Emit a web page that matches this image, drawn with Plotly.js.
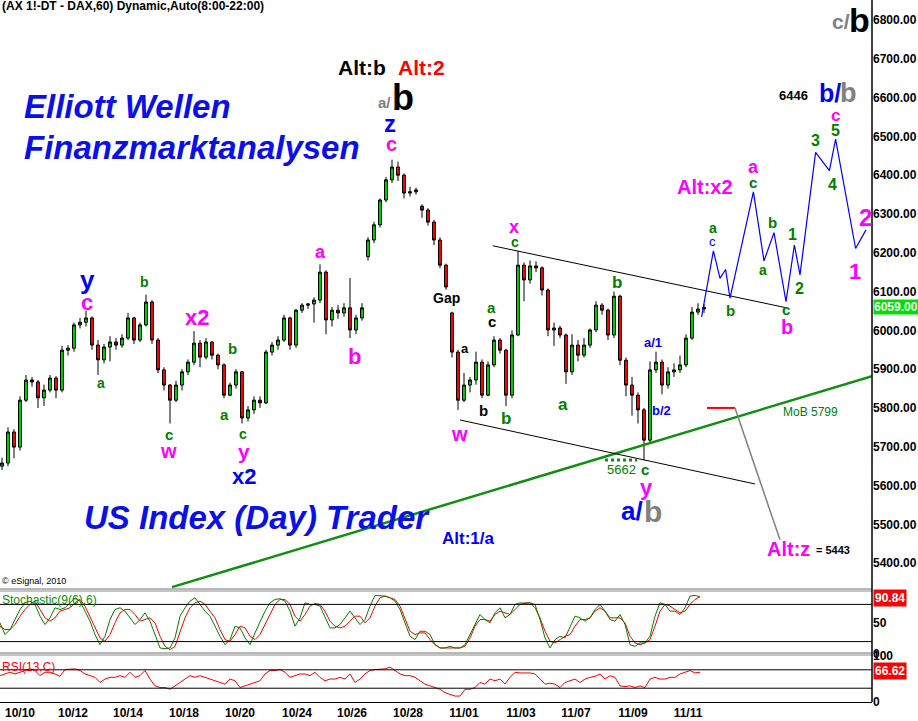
<!DOCTYPE html>
<html><head><meta charset="utf-8">
<script src="https://cdn.plot.ly/plotly-3.0.1.min.js"></script>
<style>html,body{margin:0;padding:0;background:#fff;}#chart{width:918px;height:721px;}</style>
</head><body><div id="chart"></div>
<script>
// ---- hourly DAX candles (every 3rd hour sampled) ----
const open  = [5650,5658,5738,5699,5820,5872,5867,5826,5846,5877,5846,5949,5954,6014,6021,6032,5962,5924,5957,5970,5962,5980,6032,5975,6014,6073,5975,5898,5859,5820,5859,5893,5918,5967,5931,5970,5936,5911,5833,5859,5893,5774,5795,5820,5813,5944,5962,5975,6032,5962,6052,6065,6068,6078,6150,6027,6052,6045,6058,6001,6032,6190,6233,6272,6336,6388,6421,6400,6354,6357,6320,6310,6279,6233,6168,6045,5944,5820,5859,5872,5918,5833,5911,5975,5949,5833,5988,6168,6130,6166,6161,6104,6001,6006,5988,5893,5962,5936,5962,6001,6065,6052,5988,6088,5923,5859,5833,5795,5717,5898,5918,5859,5893,5898,5911,5980,6047,6055];
const high  = [5672,5750,5745,5830,5885,5880,5872,5860,5885,5882,5960,5962,6020,6032,6050,6036,5975,5965,5985,5980,5990,6045,6035,6020,6092,6078,5980,5905,5862,5870,5900,5925,5998,5975,5980,5972,5940,5915,5865,5900,5895,5805,5830,5830,5950,5970,5985,6040,6035,6055,6070,6070,6085,6170,6155,6060,6065,6070,6135,6040,6070,6240,6280,6340,6395,6440,6435,6405,6370,6368,6325,6315,6285,6240,6172,6048,5950,5890,5880,5945,5925,5920,5985,5980,5952,6000,6205,6175,6180,6178,6165,6108,6020,6012,5992,5990,5975,5980,6005,6075,6070,6056,6100,6092,5930,5880,5840,5800,5920,5945,5925,5905,5915,5935,5990,6060,6070,6068];
const low   = [5640,5650,5670,5690,5815,5855,5800,5805,5840,5825,5840,5935,5945,6005,6010,5950,5885,5915,5920,5950,5955,5975,5965,5970,6010,5965,5890,5845,5760,5815,5845,5885,5910,5905,5925,5925,5900,5825,5830,5850,5760,5765,5785,5800,5810,5935,5950,5970,5950,5955,6045,6055,6020,6070,5990,6010,6030,6035,5980,5990,6025,6180,6225,6265,6330,6380,6385,6340,6345,6350,6290,6270,6220,6160,6105,5930,5795,5815,5840,5860,5825,5830,5905,5940,5805,5825,5985,6075,6120,6150,6090,5985,5960,5980,5862,5885,5920,5930,5955,5995,6040,5975,5980,5910,5830,5780,5760,5665,5710,5890,5835,5850,5880,5890,5905,5975,6040,6045];
const close = [5658,5738,5699,5820,5872,5867,5826,5846,5877,5846,5949,5954,6014,6021,6032,5962,5924,5957,5970,5962,5980,6032,5975,6014,6073,5975,5898,5859,5820,5859,5893,5918,5967,5931,5970,5936,5911,5833,5859,5893,5774,5795,5820,5813,5944,5962,5975,6032,5962,6052,6065,6068,6078,6150,6027,6052,6045,6058,6001,6032,6058,6233,6272,6336,6388,6421,6400,6354,6357,6362,6310,6279,6233,6168,6112,5944,5820,5859,5872,5918,5833,5911,5975,5949,5833,5988,6168,6130,6166,6161,6104,6001,6006,5988,5893,5962,5936,5962,6001,6065,6052,5988,6088,5923,5859,5833,5795,5717,5898,5918,5859,5893,5898,5911,5980,6047,6055,6059];

// ---- indicators ----
const stochK = [50.2,31.3,39.4,55.6,71.8,82.6,85.3,79.9,61,47.5,58.3,74.5,71.8,74.5,82.6,90.7,85.3,69.1,52.9,31.3,15.1,28.6,55.6,71.8,74.5,69.1,58.3,47.5,55.6,66.4,52.9,31.3,9.7,8.6,9.7,25.9,61,74.5,85.3,90.7,79.9,69.1,61,44.8,28.6,15.1,23.2,44.8,42.1,25.9,15.1,34,52.9,69.1,82.6,88,89.1,85.3,69.1,44.8,58.3,82.6,79.9,79.9,77.2,61,42.1,42.1,47.5,58.3,69.1,58.3,47.5,55.6,77.2,94.5,93.4,93.4,90.7,85.3,71.8,50.2,28.6,23.2,36.7,36.7,31.3,15.1,9.7,9.7,
  12.4,9.7,9.7,15.1,31.3,50.2,63.7,55.6,50.2,66.4,74.5,58.3,63.7,79.9,82.6,81.5,82.6,79.9,55.6,25.9,9.7,23.2,28.6,25.9,42.1,61,58.3,52.9,58.3,71.8,79.9,69.1,55.6,52.9,63.7,47.5,15.1,12.4,17.8,17.8,28.6,61,82.6,79.9,69.1,69.1,63.7,74.5,93.4,94.5,92.3];
const stochD = [44.8,39.4,39.4,47.5,61,71.8,79.9,85.3,71.8,58.3,52.9,58.3,69.1,71.8,74.5,82.6,88,77.2,61,42.1,25.9,20.5,31.3,50.2,66.4,71.8,71.8,63.7,52.9,55.6,58.3,50.2,28.6,12.4,7,12.4,36.7,58.3,74.5,82.6,85.3,79.9,69.1,58.3,39.4,23.2,20.5,31.3,44.8,42.1,28.6,23.2,31.3,47.5,66.4,79.9,88,88,79.9,61,52.9,63.7,77.2,81.5,79.9,69.1,52.9,44.8,42.1,44.8,52.9,61,61,50.2,58.3,77.2,90.7,93.4,90.7,88,77.2,58.3,36.7,31.3,34,34,23.2,15.1,9.7,9.7,
  9.7,9.7,9.7,12.4,25.9,44.8,55.6,55.6,52.9,63.7,69.1,66.4,63.7,71.8,79.9,82.6,82.6,74.5,58.3,36.7,20.5,17.8,23.2,28.6,31.3,44.8,55.6,55.6,58.3,69.1,74.5,69.1,58.3,58.3,58.3,50.2,28.6,17.8,15.1,17.8,23.2,44.8,69.1,79.9,77.2,71.8,66.4,69.1,79.9,88,92.3];
const rsi = [57.3,61,64.7,61,64.7,68.4,72.1,68.4,57.3,64.7,64.7,61,55.8,70.6,70.6,72.1,68.4,61,57.3,53.6,42.5,49.9,53.6,53.6,57.3,53.6,64.7,53.6,57.3,68.4,49.9,35.1,31.4,31.4,27.7,35.1,42.5,49.9,57.3,53.6,57.3,53.6,49.9,46.2,42.5,38.8,49.9,46.2,31.4,35.1,38.8,42.5,46.2,61,68.4,68.4,70.6,64.7,53.6,57.3,61,61,57.3,64.7,53.6,46.2,49.9,49.9,53.6,49.9,61,42.5,49.9,61,68.4,70.6,72.1,72.1,75.8,68.4,61,57.3,57.3,53.6,46.2,38.8,35.1,31.4,27.7,20.3,
  16.6,12.9,12.9,27.7,27.7,31.4,42.5,38.8,49.9,46.2,49.9,38.8,53.6,64.7,63.2,63.2,63.2,61,49.9,38.8,41,38.8,31.4,42.5,46.2,49.9,42.5,49.9,53.6,55.8,61,49.9,57.3,53.6,35.1,33.6,35.1,31.4,35.1,31.4,49.9,53.6,49.9,49.9,53.6,53.6,61,64.7,68.4,63.2,64.7];

// ---- projection & trend lines (hour index, price) ----
const projT = [350.8,356.7,360,362.8,365,376.7,382,387,393,397.2,400,407.8,414.7,417.8,427.8,433];
const projP = [6035,6205,6134,6157,6083,6357,6179,6252,6074,6220,6143,6459,6412,6493,6211,6259];
const chanUpT = [246.4,393.4], chanUpP = [6218,6058];
const chanLoT = [230,377.5],   chanLoP = [5769,5604];
const trendT = [86,436],       trendP = [5338,5882];
const supT = [302.5,318.5],    supP = [5666,5666];
const mobT = [353.5,367.5],    mobP = [5800,5800];
const altzT = [367.5,390],     altzP = [5800,5460];

const tickPos = [10,36.5,64,92,120,148.5,176,204,232,260.5,288,316.5,344];
const tickLbl = ['10/10','10/12','10/14','10/18','10/20','10/24','10/26','10/28','11/01','11/03','11/07','11/09','11/11'];
const priceTicks = [5400,5500,5600,5700,5800,5900,6000,6100,6200,6300,6400,6500,6600,6700,6800];

const tCandle = close.map((_, i) => 1 + 3 * i);
const tInd = stochK.map((_, i) => 2.5 * i);

const FONT = 'Liberation Sans, Arial, sans-serif';
const W = 872, H = 702;
function ann(px, py, text, size, color, extra) {
  return Object.assign({xref:'paper', yref:'paper', x:px/W, y:(H-py)/H, text:text, showarrow:false,
    font:{family:FONT, size:size, color:color, weight:700}, xanchor:'center', yanchor:'middle'}, extra||{});
}
const MAG = '#ff00ff', BLU = '#0000ff', GRN = '#008000', GRY = '#808080', BLK = '#000000';

const traces = [
  {type:'scatter', mode:'lines', x:trendT, y:trendP, line:{color:'#109010', width:2.5}, hoverinfo:'skip'},
  {type:'scatter', mode:'lines', x:chanUpT, y:chanUpP, line:{color:'#000', width:1}, hoverinfo:'skip'},
  {type:'scatter', mode:'lines', x:chanLoT, y:chanLoP, line:{color:'#000', width:1}, hoverinfo:'skip'},
  {type:'scatter', mode:'lines', x:supT, y:supP, line:{color:'#109010', width:3, dash:'dot'}, hoverinfo:'skip'},
  {type:'scatter', mode:'lines', x:mobT, y:mobP, line:{color:'#ff0000', width:2}, hoverinfo:'skip'},
  {type:'scatter', mode:'lines', x:altzT, y:altzP, line:{color:'#808080', width:1.5}, hoverinfo:'skip'},
  {type:'scatter', mode:'lines', x:projT, y:projP, line:{color:'#0000ff', width:1.2}, hoverinfo:'skip'},
  {type:'candlestick', x:tCandle, open:open, high:high, low:low, close:close,
   increasing:{line:{color:'#000', width:1}, fillcolor:'#00d000'},
   decreasing:{line:{color:'#000', width:1}, fillcolor:'#ff0000'}, whiskerwidth:0, hoverinfo:'skip'},
  {type:'scatter', mode:'lines', x:tInd, y:stochD, yaxis:'y2', line:{color:'#ff0000', width:1}, hoverinfo:'skip'},
  {type:'scatter', mode:'lines', x:tInd, y:stochK, yaxis:'y2', line:{color:'#008000', width:1}, hoverinfo:'skip'},
  {type:'scatter', mode:'lines', x:tInd, y:rsi, yaxis:'y3', line:{color:'#ff0000', width:1}, hoverinfo:'skip'}
];

const tf = {family:FONT, size:12, color:'#000', weight:700};
const layout = {
  width:918, height:721, margin:{l:0, r:46, t:0, b:19}, paper_bgcolor:'#fff', plot_bgcolor:'#fff',
  showlegend:false, dragmode:false,
  xaxis:{range:[0,436], tickvals:tickPos, ticktext:tickLbl, tickfont:tf, showgrid:false, zeroline:false,
         anchor:'y3', ticks:'', showline:true, linecolor:'#000', rangeslider:{visible:false}, fixedrange:true},
  yaxis:{domain:[0.1595,1], range:[5330.6,6851.6], side:'right', tickvals:priceTicks, tickformat:'.2f',
         tickfont:tf, showgrid:false, zeroline:false, ticks:'', showline:false, fixedrange:true},
  yaxis2:{domain:[0.0684,0.1567], range:[0,100], side:'right', tickvals:[50,0], tickfont:tf,
          showgrid:false, zeroline:false, ticks:'', fixedrange:true},
  yaxis3:{domain:[0,0.0655], range:[0,100], side:'right', tickvals:[100,0], tickfont:tf,
          showgrid:false, zeroline:false, ticks:'', fixedrange:true},
  shapes:[
    {type:'line', xref:'paper', yref:'y2', x0:0, x1:1, y0:80, y1:80, line:{color:'#000', width:1}},
    {type:'line', xref:'paper', yref:'y2', x0:0, x1:1, y0:20, y1:20, line:{color:'#000', width:1}},
    {type:'line', xref:'paper', yref:'y3', x0:0, x1:1, y0:70, y1:70, line:{color:'#000', width:1}},
    {type:'line', xref:'paper', yref:'y3', x0:0, x1:1, y0:30, y1:30, line:{color:'#000', width:1}},
    {type:'line', xref:'paper', yref:'paper', x0:0, x1:1, y0:(H-589)/H, y1:(H-589)/H, line:{color:'#707070', width:1}},
    {type:'line', xref:'paper', yref:'paper', x0:0, x1:1, y0:(H-591)/H, y1:(H-591)/H, line:{color:'#b0b0b0', width:1.5}},
    {type:'line', xref:'paper', yref:'paper', x0:0, x1:1, y0:(H-653)/H, y1:(H-653)/H, line:{color:'#707070', width:1}},
    {type:'line', xref:'paper', yref:'paper', x0:0, x1:1, y0:(H-655)/H, y1:(H-655)/H, line:{color:'#b0b0b0', width:1.5}},
    {type:'line', xref:'paper', yref:'paper', x0:1, x1:1, y0:0, y1:1, line:{color:'#000', width:1.5}}
  ],
  annotations:[
    ann(0, 6, '(AX 1!-DT - DAX,60) Dynamic,Auto(8:00-22:00)', 12, BLK, {xanchor:'left'}),
    ann(22, 107, '<i>Elliott Wellen</i>', 33, '#0a10e8', {xanchor:'left'}),
    ann(22, 148, '<i>Finanzmarktanalysen</i>', 33, '#0a10e8', {xanchor:'left'}),
    ann(82, 517, '<i>US Index (Day) Trader</i>', 33, '#0a10e8', {xanchor:'left'}),
    ann(362, 68, 'Alt:b', 21, BLK),
    ann(421, 68, 'Alt:2', 21, '#ff0000'),
    ann(384, 102, 'a/', 15, GRY),
    ann(403, 97, 'b', 36, BLK),
    ann(390, 124, 'z', 24, BLU),
    ann(391, 144, 'c', 20, MAG),
    ann(447, 298, 'Gap', 14, BLK),
    ann(87, 280, 'y', 26, BLU),
    ann(87, 302, 'c', 22, MAG),
    ann(144, 282, 'b', 14, GRN),
    ann(101, 383, 'a', 14, GRN),
    ann(197, 317, 'x2', 22, MAG),
    ann(232, 348, 'b', 15, GRN),
    ann(225, 414, 'a', 15, GRN),
    ann(169, 434, 'c', 15, GRN),
    ann(168, 451, 'w', 20, MAG),
    ann(243, 434, 'c', 14, GRN),
    ann(244, 451, 'y', 21, MAG),
    ann(244, 476, 'x2', 22, BLU),
    ann(320, 252, 'a', 18, MAG),
    ann(354, 356, 'b', 22, MAG),
    ann(465, 348, 'a', 13, BLK),
    ann(483, 411, 'b', 15, BLK),
    ann(492, 308, 'a', 15, GRN),
    ann(492, 321, 'c', 15, BLK),
    ann(506, 418, 'b', 17, GRN),
    ann(460, 434, 'w', 20, MAG),
    ann(514, 227, 'x', 18, MAG),
    ann(515, 242, 'c', 14, GRN),
    ann(563, 404, 'a', 17, GRN),
    ann(617, 282, 'b', 17, GRN),
    ann(653, 342, 'a/1', 13, BLU),
    ann(661, 411, 'b/2', 13, BLU),
    ann(621, 469, '5662', 13, GRN, {font:{family:FONT, size:13, color:GRN, weight:400}}),
    ann(645, 469, 'c', 15, GRN),
    ann(646, 487, 'y', 22, MAG),
    ann(632, 511, 'a/', 26, BLU),
    ann(653, 511, 'b', 30, GRY),
    ann(468, 538, 'Alt:1/a', 17, BLU),
    ann(810, 412, 'MoB 5799', 12, GRN, {font:{family:FONT, size:12, color:GRN, weight:400}}),
    ann(788, 549, 'Alt:z', 20, MAG),
    ann(833, 550, '= 5443', 11, BLK),
    ann(705, 187, 'Alt:x2', 20, MAG),
    ann(713, 228, 'a', 14, GRN),
    ann(712, 241, 'c', 13, BLU, {font:{family:FONT, size:13, color:BLU, weight:400}}),
    ann(730, 310, 'b', 15, GRN),
    ann(753, 167, 'a', 18, MAG),
    ann(753, 182, 'c', 15, GRN),
    ann(772, 222, 'b', 15, GRN),
    ann(763, 270, 'a', 14, GRN),
    ann(792, 234, '1', 16, GRN),
    ann(799, 288, '2', 16, GRN),
    ann(786, 309, 'c', 15, GRN),
    ann(787, 327, 'b', 20, MAG),
    ann(815, 141, '3', 16, GRN),
    ann(835, 131, '5', 16, GRN),
    ann(835, 115, 'c', 17, MAG),
    ann(832, 184, '4', 16, GRN),
    ann(865, 217, '2', 24, MAG),
    ann(855, 271, '1', 22, MAG),
    ann(793, 95, '6446', 13, BLK),
    ann(830, 93, 'b/', 25, BLU),
    ann(848, 93, 'b', 27, GRY),
    ann(841, 21, 'c/', 21, GRY),
    ann(859, 20, 'b', 34, BLK),
    ann(0, 581, '© eSignal, 2010', 9, BLK, {xanchor:'left', font:{family:FONT, size:9, color:BLK, weight:400}}),
    ann(0, 600, 'Stochastic(9(6),6)', 12, '#008000', {xanchor:'left', font:{family:FONT, size:12, color:'#009000', weight:400}}),
    ann(0, 667, 'RSI(13,C)', 12, '#ff0000', {xanchor:'left', font:{family:FONT, size:12, color:'#ff0000', weight:400}}),
    {xref:'paper', yref:'y', x:1, y:6059, xanchor:'left', yanchor:'middle', xshift:1, showarrow:false,
     text:'6059.00', bgcolor:'#00e000', borderpad:0, font:{family:FONT, size:12, color:'#fff', weight:700}},
    {xref:'paper', yref:'y2', x:1, y:90.84, xanchor:'left', yanchor:'middle', xshift:1, showarrow:false,
     text:'90.84', bgcolor:'#ff0000', borderpad:1, font:{family:FONT, size:12, color:'#fff', weight:700}},
    {xref:'paper', yref:'y3', x:1, y:66.62, xanchor:'left', yanchor:'middle', xshift:1, showarrow:false,
     text:'66.62', bgcolor:'#ff0000', borderpad:1, font:{family:FONT, size:12, color:'#fff', weight:700}}
  ]
};
Plotly.newPlot('chart', traces, layout, {staticPlot:true, displayModeBar:false});
</script></body></html>
